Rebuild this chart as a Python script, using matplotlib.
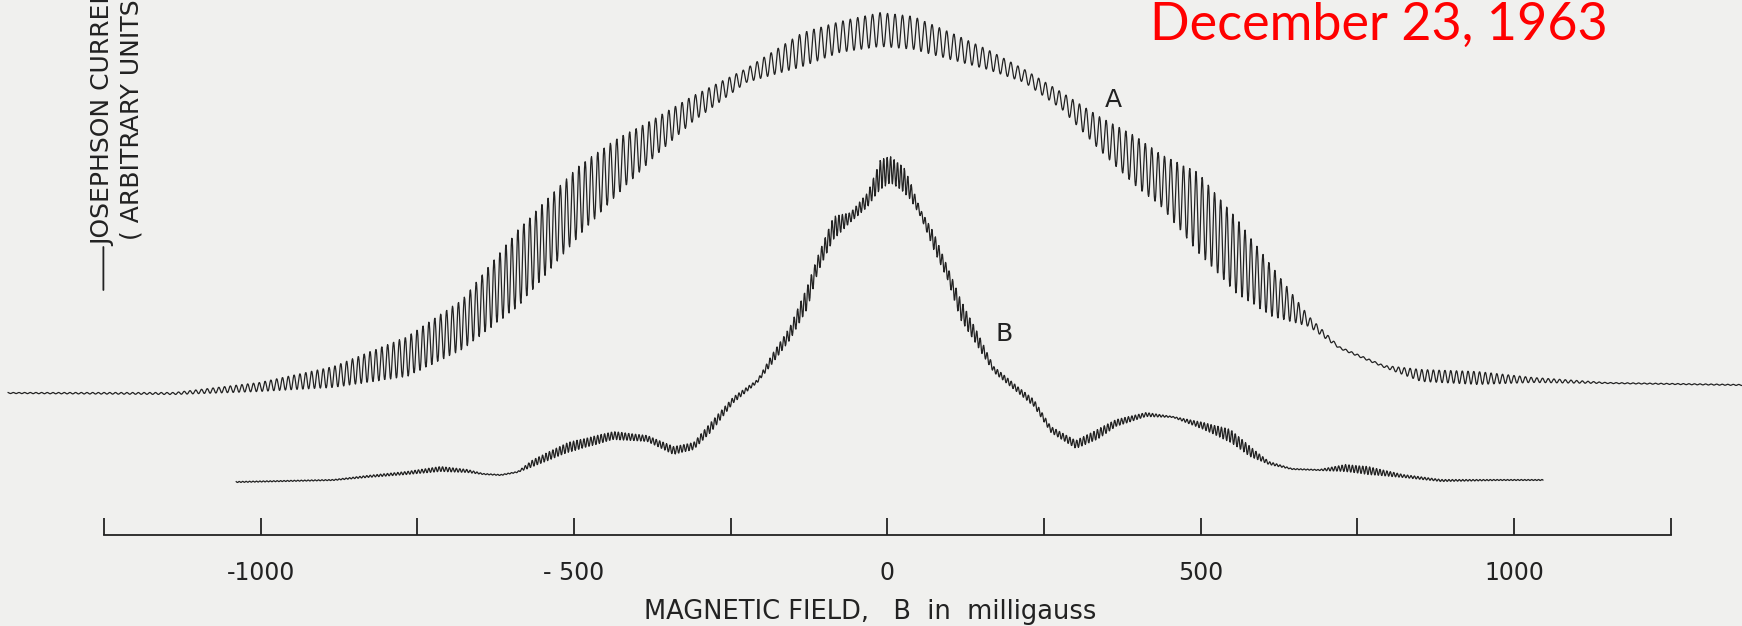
import numpy as np
import matplotlib
matplotlib.use("Agg")
import matplotlib.pyplot as plt

# ------------------------------------------------------------
# Data
# field in milligauss, current in arbitrary units
# ------------------------------------------------------------
a_field = [-1403, -1138, -1002, -884, -766, -678, -589, -490, -431, -371,
           -312, -225, -135, -76, -11, 42, 101, 160, 219, 279,
           338, 397, 437, 496, 555, 614, 673, 721, 793, 852,
           942, 1030, 1148, 1366]
a_top = [1.42, 1.42, 1.52, 1.68, 1.98, 2.35, 3.05, 3.70, 3.96, 4.16,
         4.38, 4.66, 5.02, 5.13, 5.22, 5.18, 5.02, 4.85, 4.65, 4.42,
         4.18, 3.98, 3.80, 3.62, 3.18, 2.68, 2.18, 1.88, 1.69, 1.65,
         1.63, 1.57, 1.52, 1.50]
a_bottom = [1.41, 1.40, 1.43, 1.47, 1.58, 1.85, 2.28, 3.00, 3.40, 3.78,
            4.12, 4.52, 4.68, 4.82, 4.88, 4.85, 4.75, 4.65, 4.52, 4.25,
            3.85, 3.48, 3.28, 2.82, 2.42, 2.18, 2.08, 1.86, 1.67, 1.53,
            1.50, 1.52, 1.51, 1.49]
# oscillation period of trace A along the sweep (mG)
a_period_field = [-1403, -600, 0, 600, 1366]
a_period = [9.0, 9.5, 12.0, 9.5, 8.8]

b_field = [-1039, -884, -830, -767, -713, -670, -645, -617, -590, -565,
           -510, -437, -383, -341, -309, -282, -245, -207, -182, -155,
           -128, -111, -86, -59, -31, -11, 5, 26, 37, 53,
           74, 96, 117, 144, 170, 208, 234, 261, 301, 335,
           365, 413, 456, 505, 548, 579, 609, 646, 689, 731,
           767, 823, 884, 975, 1047]
b_top = [0.53, 0.55, 0.59, 0.63, 0.68, 0.65, 0.61, 0.60, 0.63, 0.75,
         0.92, 1.03, 0.99, 0.88, 0.92, 1.12, 1.38, 1.55, 1.82, 2.08,
         2.48, 2.78, 3.18, 3.22, 3.42, 3.75, 3.78, 3.68, 3.52, 3.25,
         3.02, 2.68, 2.35, 2.02, 1.68, 1.48, 1.35, 1.08, 0.94, 1.05,
         1.15, 1.22, 1.18, 1.12, 1.05, 0.88, 0.73, 0.66, 0.65, 0.70,
         0.68, 0.60, 0.55, 0.55, 0.55]
b_bottom = [0.52, 0.54, 0.57, 0.60, 0.63, 0.62, 0.60, 0.59, 0.62, 0.68,
            0.82, 0.95, 0.93, 0.80, 0.85, 1.02, 1.32, 1.52, 1.72, 1.95,
            2.25, 2.62, 2.95, 3.12, 3.28, 3.45, 3.52, 3.42, 3.35, 3.18,
            2.85, 2.55, 2.15, 1.88, 1.62, 1.42, 1.28, 1.02, 0.86, 0.95,
            1.08, 1.18, 1.17, 1.05, 0.92, 0.78, 0.70, 0.65, 0.64, 0.63,
            0.60, 0.57, 0.53, 0.54, 0.54]
b_period = 5.5

major_ticks = [-1000, -500, 0, 500, 1000]
minor_ticks = [-1250, -750, -250, 250, 750, 1250]
tick_labels = ["-1000", "- 500", "0", "500", "1000"]

# ------------------------------------------------------------
# Helpers
# ------------------------------------------------------------
def recorder_trace(field, top, bottom, period_field, period):
    # pen swings between the upper and lower envelope once per period
    step = 0.7
    xs = np.arange(field[0], field[-1], step)
    hi = np.interp(xs, field, top)
    lo = np.interp(xs, field, bottom)
    per = np.interp(xs, period_field, period)
    phase = np.cumsum(2 * np.pi * step / per)
    return xs, (hi + lo) / 2 + (hi - lo) / 2 * np.cos(phase)

# ------------------------------------------------------------
# Plot
# ------------------------------------------------------------
paper = "#f0f0ee"
ink = "#222222"
font = "DejaVu Sans"

fig = plt.figure(figsize=(17.42, 6.26), dpi=100, facecolor=paper)
ax = fig.add_axes([0, 0, 1, 1], facecolor=paper)

xa, ya = recorder_trace(a_field, a_top, a_bottom, a_period_field, a_period)
xb, yb = recorder_trace(b_field, b_top, b_bottom,
                        [b_field[0], b_field[-1]], [b_period, b_period])
ax.plot(xa, ya, color=ink, lw=0.9)
ax.plot(xb, yb, color=ink, lw=0.9)

ax.set_xlim(-1416, 1364)
ax.set_ylim(-0.915, 5.345)

for side in ["left", "right", "top"]:
    ax.spines[side].set_visible(False)
ax.spines["bottom"].set_position(("data", 0))
ax.spines["bottom"].set_bounds(-1250, 1250)
ax.spines["bottom"].set_linewidth(1.3)
ax.spines["bottom"].set_color(ink)
ax.set_yticks([])

ax.set_xticks(major_ticks)
ax.set_xticklabels(tick_labels, fontsize=17, family=font, color=ink)
ax.set_xticks(minor_ticks, minor=True)
ax.tick_params(axis="x", which="both", direction="in", length=12.5,
               width=1.3, color=ink, pad=19)

ax.text(-28, -0.775, "MAGNETIC FIELD,   B  in  milligauss", fontsize=18.5,
        family=font, color=ink, ha="center", va="center")

ax.text(361, 4.345, "A", fontsize=18, family=font, color=ink,
        ha="center", va="center")
ax.text(186, 2.005, "B", fontsize=18, family=font, color=ink,
        ha="center", va="center")

# vertical axis caption, cut off by the top edge as in the scan
ax.annotate("", xy=(-1251, 2.875), xytext=(-1251, 2.445),
            arrowprops=dict(arrowstyle="-", color=ink, lw=1.3,
                            shrinkA=0, shrinkB=0))
ax.text(-1251, 2.88, "JOSEPHSON CURRENT", fontsize=18,
        family=font, color=ink, rotation=90, ha="center", va="bottom")
ax.text(-1206, 2.945, "( ARBITRARY UNITS )", fontsize=18,
        family=font, color=ink, rotation=90, ha="center", va="bottom")

fig.text(0.660, 0.997, "December 23, 1963", fontsize=37.5,
         family=["Lato", "DejaVu Sans"], color="#ff0000",
         ha="left", va="top")

fig.savefig("out.png", dpi=100, facecolor=paper)
